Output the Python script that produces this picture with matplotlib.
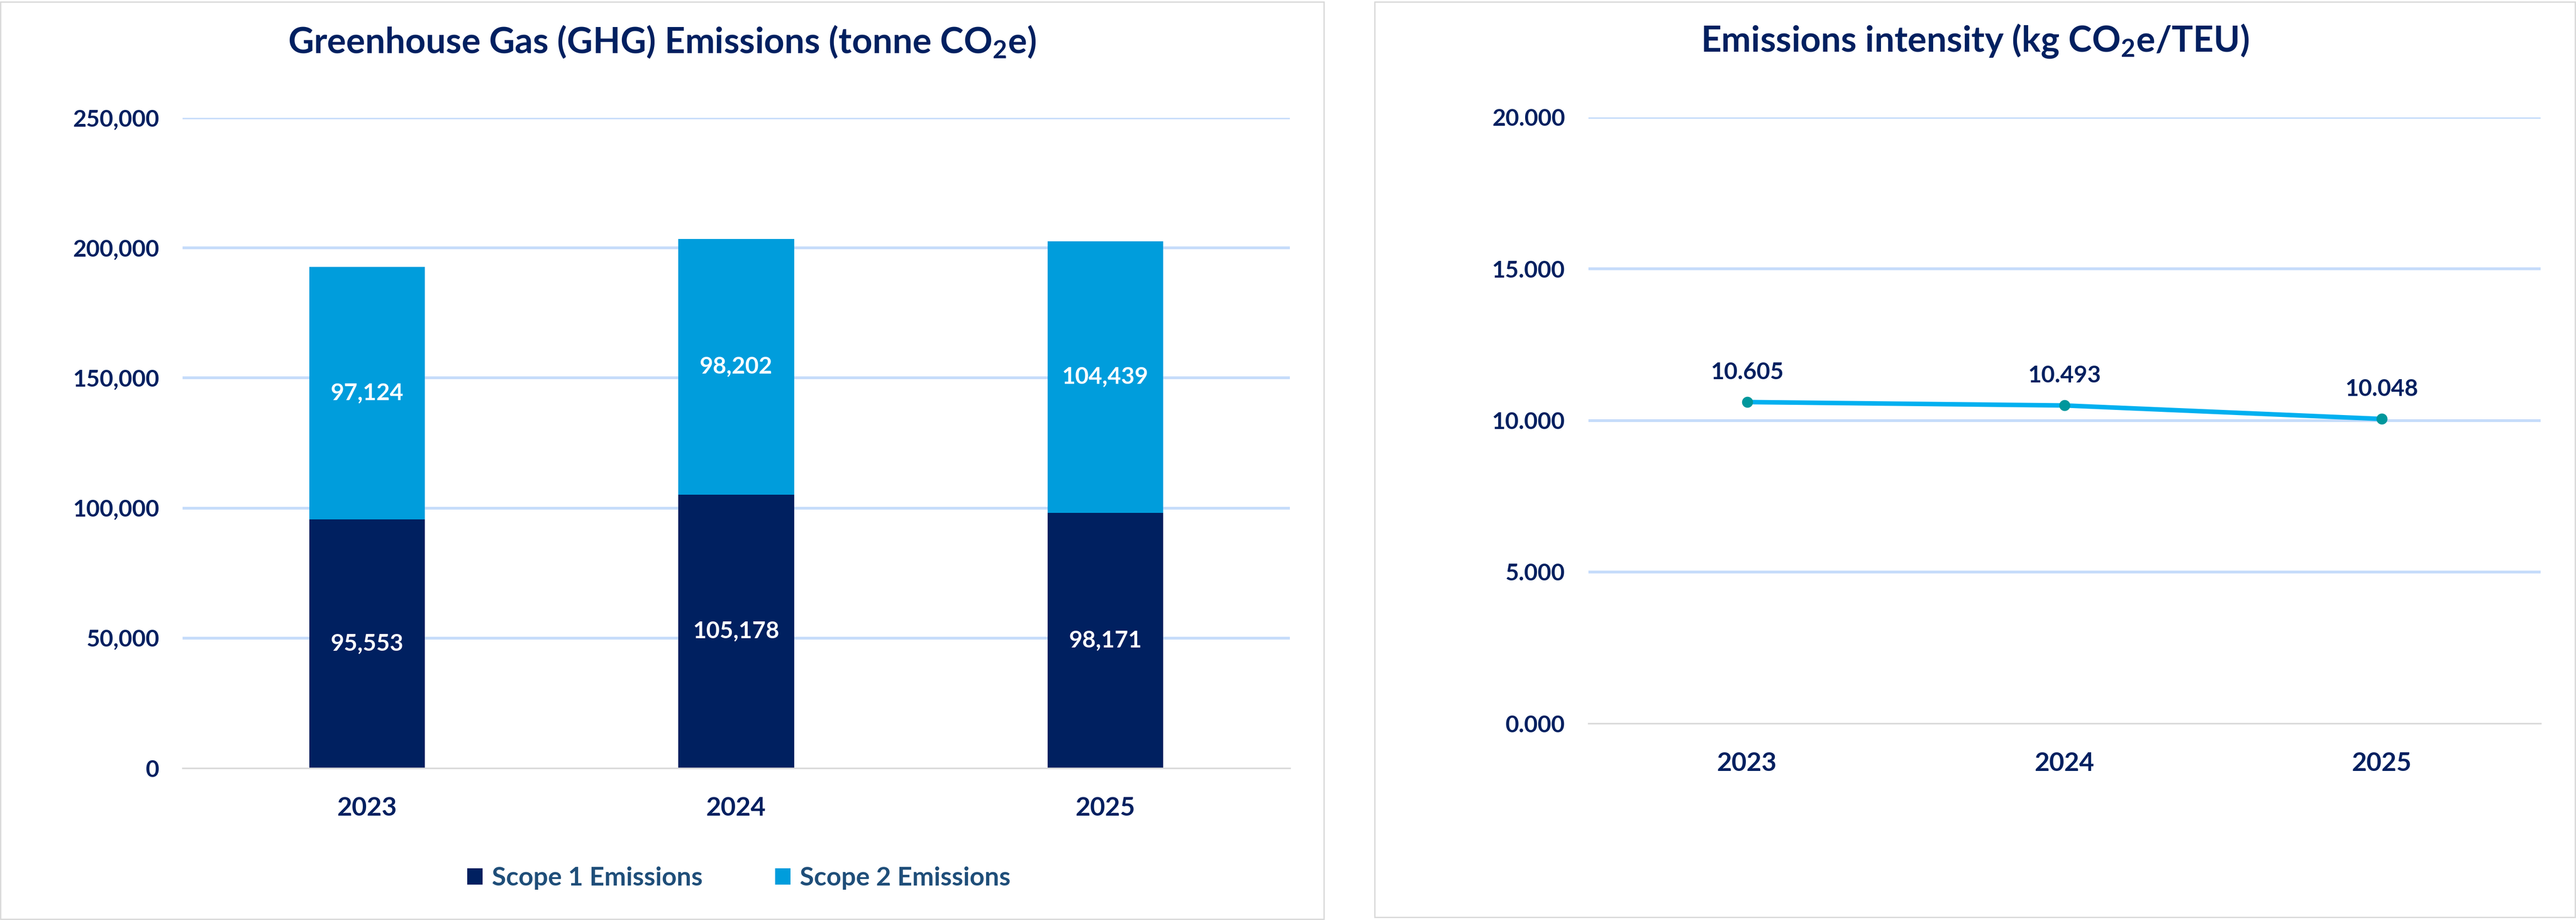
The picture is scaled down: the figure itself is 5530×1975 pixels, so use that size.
import matplotlib.pyplot as plt
from matplotlib.patches import Rectangle
import numpy as np

# fonts
plt.rcParams['font.family'] = ['Lato', 'DejaVu Sans']
plt.rcParams['mathtext.fontset'] = 'custom'
plt.rcParams['mathtext.rm'] = 'Lato:bold'
plt.rcParams['mathtext.default'] = 'rm'

# data
years = ['2023', '2024', '2025']
scope1 = [95553, 105178, 98171]
scope2 = [97124, 98202, 104439]
intensity = [10.605, 10.493, 10.048]

navy = '#002060'
sky = '#009DDC'
grid_col = '#C6DCFA'
axis_col = '#D9D9D9'

W, H = 5530, 1975
fig = plt.figure(figsize=(W / 100, H / 100), dpi=100)

# panel borders
fig.patches.append(Rectangle((1 / W, 1 - 1973 / H), 2841 / W, 1969 / H, transform=fig.transFigure,
                             fill=False, edgecolor=axis_col, lw=2))
fig.patches.append(Rectangle((2951 / W, 1 - 1969 / H), 2577 / W, 1965 / H, transform=fig.transFigure,
                             fill=False, edgecolor=axis_col, lw=2))

# ---------- left: stacked bars ----------
ax1 = fig.add_axes([392 / W, 1 - 1649 / H, 2377 / W, 1396 / H])
x = np.arange(len(years))
b1 = ax1.bar(x, scope1, width=0.313, color=navy, label='Scope 1 Emissions', zorder=2)
b2 = ax1.bar(x, scope2, width=0.313, bottom=scope1, color=sky, label='Scope 2 Emissions', zorder=2)
for i in range(len(years)):
    ax1.text(x[i], scope1[i] / 2, f'{scope1[i]:,}', ha='center', va='center',
             color='white', fontsize=36, fontweight='bold', zorder=3)
    ax1.text(x[i], scope1[i] + scope2[i] / 2, f'{scope2[i]:,}', ha='center', va='center',
             color='white', fontsize=36, fontweight='bold', zorder=3)

ax1.set_xlim(-0.5, 2.5)
ax1.set_ylim(0, 250000)
ax1.set_yticks(np.arange(0, 250001, 50000))
ax1.set_yticklabels([f'{v:,}' for v in range(0, 250001, 50000)])
ax1.set_xticks(x)
ax1.set_xticklabels(years)
ax1.yaxis.grid(True, color=grid_col, lw=4.3, zorder=0)
ax1.set_axisbelow(True)
ax1.get_ygridlines()[0].set_visible(False)

# ---------- right: intensity line ----------
ax2 = fig.add_axes([3410 / W, 1 - 1553 / H, 2044 / W, 1301 / H])
ax2.plot(x, intensity, color='#00B0F0', lw=7, zorder=3)
ax2.plot(x, intensity, 'o', color='#00979C', ms=16, zorder=4)
for i in range(len(years)):
    ax2.annotate(f'{intensity[i]:.3f}', (x[i], intensity[i]), xytext=(0, 46),
                 textcoords='offset points', ha='center', va='center',
                 color=navy, fontsize=36, fontweight='bold')
ax2.set_xlim(-0.5, 2.5)
ax2.set_ylim(0, 20)
ax2.set_yticks(np.arange(0, 20.01, 5))
ax2.set_yticklabels([f'{v:.3f}' for v in np.arange(0, 20.01, 5)])
ax2.set_xticks(x)
ax2.set_xticklabels(years)
ax2.yaxis.grid(True, color=grid_col, lw=4.3, zorder=0)
ax2.set_axisbelow(True)
ax2.get_ygridlines()[0].set_visible(False)

for ax in (ax1, ax2):
    for s in ['top', 'right', 'left']:
        ax.spines[s].set_visible(False)
    ax.spines['bottom'].set_color(axis_col)
    ax.spines['bottom'].set_linewidth(2.4)
    ax.tick_params(axis='both', length=0, colors=navy)
    ax.tick_params(axis='y', labelsize=36, pad=36)
    ax.tick_params(axis='x', labelsize=40, pad=44)
    for lbl in ax.get_xticklabels() + ax.get_yticklabels():
        lbl.set_fontweight('bold')

# titles
fig.text(1421 / W, 1 - 90 / H, r'Greenhouse Gas (GHG) Emissions (tonne CO$_2$e)', ha='center', va='center',
         fontsize=55, fontweight='bold', color=navy)
fig.text(4240 / W, 1 - 88 / H, r'Emissions intensity (kg CO$_2$e/TEU)', ha='center', va='center',
         fontsize=55, fontweight='bold', color=navy)

# legend
leg = fig.legend(handles=[b1, b2], loc='center', bbox_to_anchor=(1586 / W, 1 - 1885 / H), ncol=2,
                 frameon=False, fontsize=40, handlelength=0.6, handleheight=0.6,
                 handletextpad=0.35, columnspacing=2.8)
for t in leg.get_texts():
    t.set_color('#1F4E79')
    t.set_fontweight('bold')

fig.savefig('out.png', dpi=100, facecolor='white')
